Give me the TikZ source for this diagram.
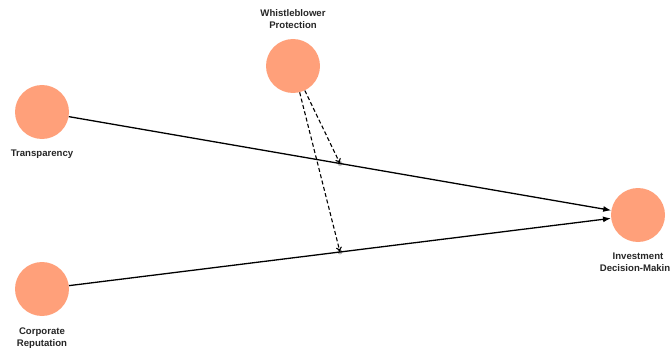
\documentclass[tikz,border=0pt]{standalone}
\usepackage{fontspec}
\setmainfont{Liberation Sans}
\usetikzlibrary{arrows.meta}
\definecolor{nodefill}{HTML}{FFA07A}
\definecolor{dotgray}{HTML}{BBBBBB}
\tikzset{
  construct/.style={circle, fill=nodefill, draw=none, minimum size=54pt, inner sep=0pt},
  lbl/.style={font=\bfseries\fontsize{9.6}{12.5}\selectfont, align=center, inner sep=0pt, text=black!85},
  path1/.style={line width=1.3pt, -{Latex[length=8pt,width=6pt]}},
  moder/.style={line width=1.1pt, dashed, dash pattern=on 4pt off 2.5pt, -{To[length=5pt,width=6pt]}},
  hitdot/.style={circle, fill=dotgray, inner sep=0pt, minimum size=5pt}
}
\begin{document}
\begin{tikzpicture}[x=1pt,y=-1pt]
\useasboundingbox (0,0) rectangle (670,353);
\clip (0,0) rectangle (670,353);
\node[construct] (tr) at (42,112) {};
\node[construct] (cr) at (42,289) {};
\node[construct] (wb) at (293,66) {};
\node[construct] (id) at (638,215) {};
\node[lbl] (trl) at (42,154) {Transparency};
\node[lbl] (crl) at (42,338) {Corporate\\Reputation};
\node[lbl] (wbl) at (293,19) {Whistleblower\\Protection};
\node[lbl] (idl) at (638,263) {Investment\\Decision-Making};
\node[hitdot] (d1) at (340,163.5) {};
\node[hitdot] (d2) at (340,252) {};
\draw[path1] (tr) -- (id);
\draw[path1] (cr) -- (id);
\draw[moder] (wb) -- (d1.center);
\draw[moder] (wb) -- (d2.center);
\end{tikzpicture}
\end{document}
